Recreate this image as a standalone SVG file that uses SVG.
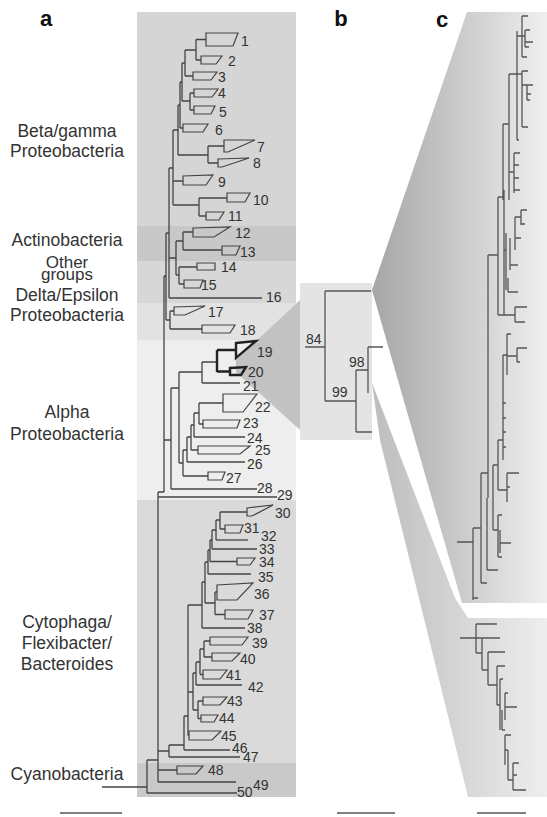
<svg xmlns="http://www.w3.org/2000/svg" width="547" height="817" viewBox="0 0 547 817">
<defs>
<linearGradient id="gUp" x1="372" y1="0" x2="547" y2="0" gradientUnits="userSpaceOnUse"><stop offset="0" stop-color="#a6a6a6"/><stop offset="1" stop-color="#efefef"/></linearGradient>
<linearGradient id="gLo" x1="372" y1="0" x2="547" y2="0" gradientUnits="userSpaceOnUse"><stop offset="0" stop-color="#bdbdbd"/><stop offset="1" stop-color="#eeeeee"/></linearGradient>
<style>
.br{fill:none;stroke:#444;stroke-width:1.3}
.bc{fill:none;stroke:#555;stroke-width:1.3}
.tri{fill:none;stroke:#444;stroke-width:1.2;stroke-linejoin:miter}
.bold{fill:none;stroke:#222;stroke-width:2.4}
.lf{font-family:"Liberation Sans",Arial,sans-serif;font-size:14px;fill:#333}
.grp{font-family:"Liberation Sans",Arial,sans-serif;font-size:17.5px;fill:#333;text-anchor:middle}
.sm{font-size:17px}
.pl{font-family:"Liberation Sans",Arial,sans-serif;font-size:22px;font-weight:bold;fill:#111;text-anchor:middle}
.sb{stroke:#555;stroke-width:1.3}
</style>
</defs>
<g id="backgrounds">
<rect x="137" y="12" width="159" height="214" fill="#d5d5d5"/>
<rect x="137" y="226" width="159" height="35" fill="#c8c8c8"/>
<rect x="137" y="261" width="159" height="42" fill="#d7d7d7"/>
<rect x="137" y="303" width="159" height="37" fill="#e2e2e2"/>
<rect x="137" y="340" width="159" height="160" fill="#eeeeee"/>
<rect x="137" y="500" width="159" height="263" fill="#dadada"/>
<rect x="137" y="763" width="159" height="34" fill="#c9c9c9"/>
<polygon points="372,290 467,12 547,12 547,603 462,603" fill="url(#gUp)"/>
<polygon points="372,383 455,598 468,618 547,618 547,797 468,797 380,440" fill="url(#gLo)"/>
<rect x="300" y="283" width="72" height="157" fill="#e4e4e4"/>
<polygon points="236,360 300,300 300,430 236,372" fill="#c2c2c2"/>
</g>
<g id="panel-labels">
<text class="pl" x="46" y="26">a</text>
<text class="pl" x="341" y="26">b</text>
<text class="pl" x="442" y="27">c</text>
</g>
<g id="group-labels">
<text class="grp" x="67" y="137">Beta/gamma</text>
<text class="grp" x="67" y="157">Proteobacteria</text>
<text class="grp" x="67" y="246">Actinobacteria</text>
<text class="grp sm" x="67" y="268">Other</text>
<text class="grp sm" x="67" y="280">groups</text>
<text class="grp" x="67" y="301">Delta/Epsilon</text>
<text class="grp" x="67" y="321">Proteobacteria</text>
<text class="grp" x="67" y="418">Alpha</text>
<text class="grp" x="67" y="440">Proteobacteria</text>
<text class="grp" x="67" y="628">Cytophaga/</text>
<text class="grp" x="67" y="649">Flexibacter/</text>
<text class="grp" x="67" y="670">Bacteroides</text>
<text class="grp" x="67" y="780">Cyanobacteria</text>
</g>
<g id="connectors">
<path class="br" d="M196 39.5H206M196 60H201M196 39.5V60M185 50H196M185 76H193M185 50V76M190 93H194M190 110H194M190 93V110M182 63H185M182 101H190M182 63V101M180 82H182M180 128H183M180 82V128M208 146H224M208 163H218M208 146V163M178 105H180M178 155H208M178 105V155M199 198H227M199 216H206M199 198V216M173 130H178M173 181H183M173 205H199M173 130V205M183 232H193M183 250H222M183 232V250M179 267H197M179 284H184M179 267V284M176 241H183M176 275H179M176 241V275M169 168H173M169 258H176M169 168V298M170 311H174M170 329H202M170 311V329M166 233H169M166 320H170M166 233V320M164 276H166M164 440H171M158 492H164M164 276V492"/>
<path class="br" d="M202 362H217M202 362V383M199 403H223M199 424H203M199 403V424M194 413H199M194 413V437M191 425H194M191 450H198M191 425V450M187 437H191M187 437V462M183 450H187M183 476H208M183 450V476M179 372H202M179 463H183M179 372V463M171 388H179M171 388V489"/>
<path class="br" d="M158 492V782M220 512H247M220 529H225M220 512V529M216 520H220M216 520V540M212 530H216M212 530V549M210 540H212M210 561.5H237M210 540V561.5M208 550H210M208 550V574M215 592H217M215 614.5H225M215 592V614.5M205 562H208M205 603H215M205 562V603M202 582H205M202 582V628M204 641H210M204 657H212M204 641V657M200 649H204M200 674.5H203M200 649V674.5M196 662H200M196 662V685M198 701H203M198 718.5H201M198 701V718.5M193 673H196M193 710H198M193 673V710M188 605H202M188 692H193M188 735.5H189M188 605V735.5M184 716H188M184 716V750M169 745H184M169 745V757M158 751H169M158 770H177M147 760V793M147 760H158M102 787H147"/>
<path class="bold" d="M217 350H236M217 371.5H230M217 350V372"/>
<path class="bc" d="M325 291H371M325 291V401M305 347H325M325 401H356M356 370V432M356 432H372M356 370H368M368 347V393M368 347H383"/>
<path class="bc" d="M522 16H528M522 16V57M522 57H527M522 36H525M525 30V47M525 30H530M525 42H533M525 47H529M517 31V140M517 36H522M517 140H519M509 74H522M522 71V127M522 71H528M522 127H528M522 85H527M527 85V100M527 85H533M527 94H531M527 100H530M514 153V193M514 153H520M514 165H519M514 178H519M514 190H520M509 172H514M509 74V200M503 124H509M503 124V200M498 197H504M504 190V315M498 197V315"/>
<path class="bc" d="M521 210V225M521 210H527M521 224H525M515 217H521M515 217V250M515 238H521M510 238V270M510 265H518M508 278V292M508 292H518M506 233V290M504 250H506M498 315H515M515 307V322M515 307H527M515 322H525M488 255H498M488 255V498M507 334V375M507 334H511M507 356H517M517 348V362M517 348H527M517 362H520M503 355H507M503 355V460"/>
<path class="bc" d="M503 403H506M503 418H506M503 432H506M503 447H506M498 440V490M498 440H503M493 465V530M493 465H498M507 473V502M507 473H519M507 487H510M498 490H507M481 473V583M481 473H488M473 528V600M473 528H481M457 542H473M498 515V557M493 530H498M500 530V553M500 543H511M498 515H502M498 557H502M487 570H498M487 498V570M481 583H487M473 598H478"/>
<path class="bc" d="M476 624H497M476 624V653M460 638H500M482 638V670M476 653H482M488 652H505M488 652V685M482 670H488M497 666H505M497 666V705M488 685H497M500 679V730M500 679H503M505 693V720M505 693H508M505 707H517M497 705H500M502 710V730M502 730H505M505 735H511M505 735V765M508 750V780M505 750H508M513 763H519M513 763V790M513 790H526M513 775H517M508 780H513"/>
</g>
<g id="scale-bars">
<line class="sb" x1="60" y1="813" x2="122" y2="813"/>
<line class="sb" x1="337" y1="813" x2="395" y2="813"/>
<line class="sb" x1="477" y1="813" x2="526" y2="813"/>
</g>
<g id="b-labels">
<text class="lf" x="306" y="344">84</text>
<text class="lf" x="349" y="367">98</text>
<text class="lf" x="332" y="397">99</text>
</g>
<g id="leaf-1"><polygon class="tri" points="206,33 238,33 233,46 206,46"/><text class="lf" x="241" y="46">1</text></g>
<g id="leaf-2"><polygon class="tri" points="201,56 222,56 216,64 201,64"/><text class="lf" x="228" y="66">2</text></g>
<g id="leaf-3"><polygon class="tri" points="193,72 217,72 211,80 193,80"/><text class="lf" x="218" y="82">3</text></g>
<g id="leaf-4"><polygon class="tri" points="194,89 218,89 212,97 194,97"/><text class="lf" x="218" y="98">4</text></g>
<g id="leaf-5"><polygon class="tri" points="194,106 215,106 211,114 194,114"/><text class="lf" x="219" y="117">5</text></g>
<g id="leaf-6"><polygon class="tri" points="183,124 208,124 203,132 183,132"/><text class="lf" x="215" y="135">6</text></g>
<g id="leaf-7"><polygon class="tri" points="224,140 255,140 228,152 224,152"/><text class="lf" x="257" y="152">7</text></g>
<g id="leaf-8"><polygon class="tri" points="218,159 249,158 222,167 218,167"/><text class="lf" x="253" y="168">8</text></g>
<g id="leaf-9"><polygon class="tri" points="183,176 213,175 206,185 183,185"/><text class="lf" x="218" y="187">9</text></g>
<g id="leaf-10"><polygon class="tri" points="227,193 250,193 245,202 227,202"/><text class="lf" x="253" y="205">10</text></g>
<g id="leaf-11"><polygon class="tri" points="206,212 224,212 219,220 206,220"/><text class="lf" x="228" y="221">11</text></g>
<g id="leaf-12"><polygon class="tri" points="193,228 230,227 214,237 193,237"/><text class="lf" x="235" y="238">12</text></g>
<g id="leaf-13"><polygon class="tri" points="222,246 240,246 236,255 222,255"/><text class="lf" x="240" y="257">13</text></g>
<g id="leaf-14"><polygon class="tri" points="197,263 215,263 215,270 197,270"/><text class="lf" x="221" y="272">14</text></g>
<g id="leaf-15"><polygon class="tri" points="184,280 203,280 200,288 184,288"/><text class="lf" x="201" y="290">15</text></g>
<g id="leaf-16"><path class="br" d="M169 298H262"/><text class="lf" x="266" y="302">16</text></g>
<g id="leaf-17"><polygon class="tri" points="174,307 205,306 185,315 174,315"/><text class="lf" x="208" y="317">17</text></g>
<g id="leaf-18"><polygon class="tri" points="202,325 235,325 230,333 202,333"/><text class="lf" x="240" y="335">18</text></g>
<g id="leaf-19"><polygon class="bold" points="236,343 256,341 236,358"/><text class="lf" x="257" y="357">19</text></g>
<g id="leaf-20"><polygon class="bold" points="230,368 246,367 241,375 230,375"/><text class="lf" x="248" y="377">20</text></g>
<g id="leaf-21"><path class="br" d="M202 383H240"/><text class="lf" x="243" y="391">21</text></g>
<g id="leaf-22"><polygon class="tri" points="223,394 257,394 243,412 223,412"/><text class="lf" x="255" y="412">22</text></g>
<g id="leaf-23"><polygon class="tri" points="203,420 240,420 237,428 203,428"/><text class="lf" x="243" y="428">23</text></g>
<g id="leaf-24"><path class="br" d="M194 437H245"/><text class="lf" x="247" y="443">24</text></g>
<g id="leaf-25"><polygon class="tri" points="198,446 250,446 240,454 198,454"/><text class="lf" x="255" y="455">25</text></g>
<g id="leaf-26"><path class="br" d="M187 462H245"/><text class="lf" x="247" y="469">26</text></g>
<g id="leaf-27"><polygon class="tri" points="208,472 225,472 222,480 208,480"/><text class="lf" x="226" y="483">27</text></g>
<g id="leaf-28"><path class="br" d="M171 489H257"/><text class="lf" x="257" y="493">28</text></g>
<g id="leaf-29"><path class="br" d="M158 497H277"/><text class="lf" x="277" y="500">29</text></g>
<g id="leaf-30"><polygon class="tri" points="247,508 273,505 252,516 247,516"/><text class="lf" x="275" y="518">30</text></g>
<g id="leaf-31"><polygon class="tri" points="225,525 243,525 240,533 225,533"/><text class="lf" x="244" y="533">31</text></g>
<g id="leaf-32"><path class="br" d="M216 540H248"/><text class="lf" x="261" y="541">32</text></g>
<g id="leaf-33"><path class="br" d="M212 549H257"/><text class="lf" x="259" y="554">33</text></g>
<g id="leaf-34"><polygon class="tri" points="237,558 255,558 250,565 237,565"/><text class="lf" x="259" y="567">34</text></g>
<g id="leaf-35"><path class="br" d="M208 574H251"/><text class="lf" x="258" y="582">35</text></g>
<g id="leaf-36"><polygon class="tri" points="217,585 253,583 237,600 217,600"/><text class="lf" x="254" y="599">36</text></g>
<g id="leaf-37"><polygon class="tri" points="225,610 253,610 248,619 225,619"/><text class="lf" x="259" y="620">37</text></g>
<g id="leaf-38"><path class="br" d="M202 628H245"/><text class="lf" x="247" y="633">38</text></g>
<g id="leaf-39"><polygon class="tri" points="210,637 248,637 242,645 210,645"/><text class="lf" x="252" y="648">39</text></g>
<g id="leaf-40"><polygon class="tri" points="212,653 240,653 232,661 212,661"/><text class="lf" x="240" y="664">40</text></g>
<g id="leaf-41"><polygon class="tri" points="203,670 227,670 220,679 203,679"/><text class="lf" x="226" y="680">41</text></g>
<g id="leaf-42"><path class="br" d="M196 685H242"/><text class="lf" x="248" y="692">42</text></g>
<g id="leaf-43"><polygon class="tri" points="203,697 227,697 220,705 203,705"/><text class="lf" x="227" y="706">43</text></g>
<g id="leaf-44"><polygon class="tri" points="201,715 218,715 214,722 201,722"/><text class="lf" x="219" y="723">44</text></g>
<g id="leaf-45"><polygon class="tri" points="189,731 221,731 212,740 189,740"/><text class="lf" x="221" y="741">45</text></g>
<g id="leaf-46"><path class="br" d="M184 750H230"/><text class="lf" x="232" y="753">46</text></g>
<g id="leaf-47"><path class="br" d="M169 757H240"/><text class="lf" x="243" y="762">47</text></g>
<g id="leaf-48"><polygon class="tri" points="177,766 203,766 196,774 177,774"/><text class="lf" x="208" y="775">48</text></g>
<g id="leaf-49"><path class="br" d="M158 782H236"/><text class="lf" x="253" y="790">49</text></g>
<g id="leaf-50"><path class="br" d="M147 793H237"/><text class="lf" x="237" y="797">50</text></g>
</svg>
